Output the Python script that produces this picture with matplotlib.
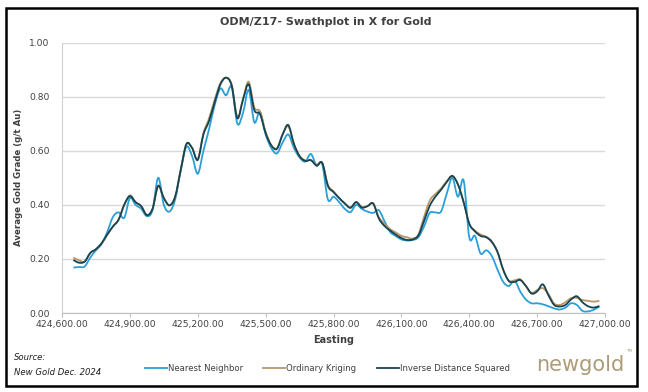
import numpy as np
import matplotlib
matplotlib.use("Agg")
import matplotlib.pyplot as plt
from matplotlib.path import Path
from matplotlib.patches import PathPatch, Rectangle
from matplotlib.lines import Line2D
from matplotlib.ticker import FuncFormatter

# Easting of each swath (25 m spacing)
easting = np.arange(424650, 427000, 25)

nearest_neighbor = [
    0.168, 0.170, 0.172, 0.205, 0.232, 0.255, 0.300, 0.355, 0.372, 0.352,
    0.425, 0.400, 0.385, 0.358, 0.380, 0.500, 0.400, 0.375, 0.420, 0.530,
    0.615, 0.580, 0.515, 0.600, 0.680, 0.770, 0.830, 0.805, 0.835, 0.700,
    0.740, 0.825, 0.705, 0.745, 0.660, 0.610, 0.590, 0.630, 0.660, 0.610,
    0.575, 0.560, 0.588, 0.545, 0.550, 0.420, 0.430, 0.410, 0.385, 0.373,
    0.400, 0.385, 0.375, 0.370, 0.380, 0.340, 0.300, 0.285, 0.272, 0.268,
    0.270, 0.280, 0.320, 0.370, 0.372, 0.375, 0.440, 0.500, 0.430, 0.490,
    0.280, 0.285, 0.220, 0.232, 0.210, 0.160, 0.115, 0.100, 0.120, 0.080,
    0.050, 0.036, 0.036, 0.032, 0.025, 0.017, 0.013, 0.020, 0.036, 0.030,
    0.008, 0.006, 0.012, 0.024,
]

ordinary_kriging = [
    0.205, 0.195, 0.190, 0.222, 0.236, 0.258, 0.290, 0.320, 0.345, 0.400,
    0.435, 0.410, 0.395, 0.362, 0.385, 0.470, 0.425, 0.398, 0.430, 0.530,
    0.625, 0.610, 0.570, 0.665, 0.720, 0.790, 0.850, 0.870, 0.845, 0.725,
    0.790, 0.855, 0.760, 0.745, 0.670, 0.620, 0.610, 0.660, 0.690, 0.625,
    0.580, 0.565, 0.565, 0.548, 0.555, 0.475, 0.450, 0.425, 0.405, 0.390,
    0.410, 0.392, 0.395, 0.405, 0.355, 0.330, 0.310, 0.298, 0.285, 0.280,
    0.275, 0.290, 0.355, 0.415, 0.440, 0.460, 0.487, 0.505, 0.475, 0.410,
    0.330, 0.305, 0.290, 0.282, 0.265, 0.225, 0.160, 0.120, 0.120, 0.125,
    0.100, 0.075, 0.085, 0.092, 0.070, 0.035, 0.030, 0.040, 0.055, 0.056,
    0.048, 0.045, 0.042, 0.045,
]

inverse_distance_sq = [
    0.196, 0.186, 0.190, 0.222, 0.236, 0.258, 0.290, 0.320, 0.345, 0.400,
    0.432, 0.410, 0.395, 0.362, 0.385, 0.470, 0.425, 0.398, 0.430, 0.530,
    0.625, 0.610, 0.566, 0.660, 0.710, 0.780, 0.845, 0.870, 0.840, 0.720,
    0.790, 0.845, 0.750, 0.735, 0.665, 0.620, 0.607, 0.660, 0.695, 0.625,
    0.580, 0.562, 0.565, 0.545, 0.555, 0.470, 0.447, 0.425, 0.405, 0.389,
    0.410, 0.390, 0.395, 0.405, 0.350, 0.322, 0.305, 0.290, 0.277, 0.270,
    0.272, 0.287, 0.340, 0.396, 0.430, 0.455, 0.484, 0.507, 0.475, 0.410,
    0.330, 0.302, 0.285, 0.280, 0.262, 0.225, 0.160, 0.118, 0.115, 0.122,
    0.100, 0.072, 0.080, 0.106, 0.065, 0.030, 0.024, 0.030, 0.050, 0.062,
    0.040, 0.025, 0.020, 0.026,
]

series = [
    ("Nearest Neighbor", nearest_neighbor, "#2b9fd8"),
    ("Ordinary Kriging", ordinary_kriging, "#b89668"),
    ("Inverse Distance Squared", inverse_distance_sq, "#174452"),
]


def smooth_path(x, y):
    # Excel style "smoothed line": bezier through every point
    x = np.asarray(x, float)
    y = np.asarray(y, float)
    verts = [(x[0], y[0])]
    codes = [Path.MOVETO]
    n = len(x)
    for i in range(n - 1):
        i0 = max(i - 1, 0)
        i3 = min(i + 2, n - 1)
        c1 = (x[i] + (x[i + 1] - x[i0]) / 6, y[i] + (y[i + 1] - y[i0]) / 6)
        c2 = (x[i + 1] - (x[i3] - x[i]) / 6, y[i + 1] - (y[i3] - y[i]) / 6)
        verts += [c1, c2, (x[i + 1], y[i + 1])]
        codes += [Path.CURVE4] * 3
    return Path(verts, codes)


fig = plt.figure(figsize=(6.48, 3.92), dpi=100)
ax = fig.add_axes([0.0957, 0.2015, 0.838, 0.69])

for name, vals, col in series:
    ax.add_patch(PathPatch(smooth_path(easting, vals), facecolor="none",
                           edgecolor=col, lw=1.3, zorder=3))

ax.set_xlim(424600, 427000)
ax.set_ylim(0, 1.0)
ax.set_xticks(np.arange(424600, 427001, 300))
ax.set_yticks(np.arange(0, 1.01, 0.2))
ax.xaxis.set_major_formatter(FuncFormatter(lambda v, p: f"{v:,.2f}"))
ax.yaxis.set_major_formatter(FuncFormatter(lambda v, p: f"{v:.2f}"))
ax.tick_params(axis="x", length=3, color="#bfbfbf", labelsize=6.6,
               labelcolor="#404040", pad=2)
ax.tick_params(axis="y", length=0, labelsize=6.6, labelcolor="#404040", pad=9)
ax.grid(axis="y", color="#d9d9d9", lw=1.0)
ax.set_axisbelow(True)
for s in ["top", "right"]:
    ax.spines[s].set_visible(False)
ax.spines["left"].set_color("#d0d0d0")
ax.spines["bottom"].set_color("#bfbfbf")

ax.set_xlabel("Easting", fontsize=7, fontweight="bold", color="#404040", labelpad=4)
ax.set_ylabel("Average Gold Grade (g/t Au)", fontsize=6.2, fontweight="bold",
              color="#404040", labelpad=4)
fig.text(0.502, 0.943, "ODM/Z17- Swathplot in X for Gold", ha="center", va="center",
         fontsize=8, fontweight="bold", color="#404040")

# legend
handles = [Line2D([], [], color=c, lw=1.3) for _, _, c in series]
fig.legend(handles, [n for n, _, _ in series], loc="center", ncol=3,
           bbox_to_anchor=(0.505, 0.061), frameon=False, fontsize=6.1,
           handlelength=2.6, handletextpad=0.1, columnspacing=2.4,
           labelcolor="#404040")

# source and logo
fig.text(0.022, 0.088, "Source:", fontsize=6.1, style="italic", color="#202020",
         va="center")
fig.text(0.022, 0.05, "New Gold Dec. 2024", fontsize=6.1, style="italic",
         color="#202020", va="center")
fig.text(0.964, 0.07, "newgold", ha="right", va="center", fontsize=15,
         color="#ad9c7a", family="DejaVu Sans")
fig.text(0.966, 0.105, "TM", fontsize=3, color="#ad9c7a", va="center")

# outer frame
fig.add_artist(Rectangle((0.009, 0.015), 0.974, 0.965, transform=fig.transFigure,
                         fill=False, edgecolor="black", lw=1.8))

fig.savefig("out.png", dpi=100)
